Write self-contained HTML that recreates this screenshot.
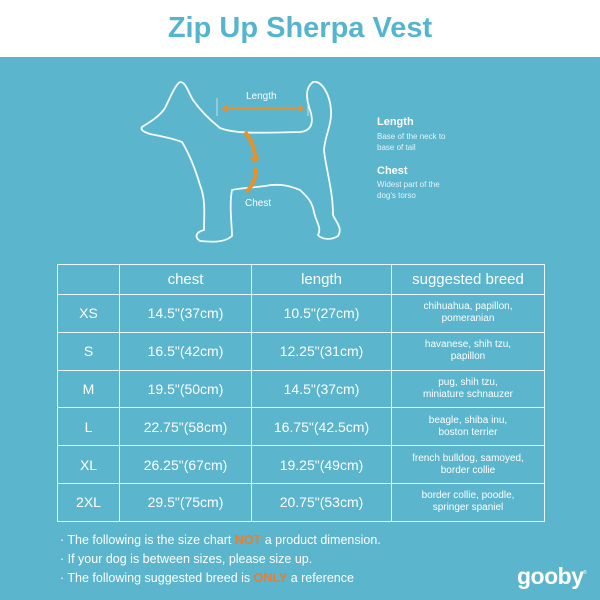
<!DOCTYPE html>
<html><head><meta charset="utf-8"><style>
*{margin:0;padding:0;box-sizing:border-box}
body{width:600px;height:600px;background:#5ab5cd;position:relative;overflow:hidden;font-family:"Liberation Sans","DejaVu Sans",sans-serif;color:#fff}
.hdr{position:absolute;left:0;top:0;width:600px;height:57px;background:#fff}
.title{position:absolute;left:0;top:12px;width:600px;text-align:center;font-size:29px;font-weight:bold;color:#55b5cf}
.t{position:absolute;white-space:nowrap}
table{position:absolute;left:57px;top:264px;width:488px;border-collapse:collapse}
td{border:1.5px solid #e9f5f8;text-align:center;vertical-align:middle;font-size:14px;height:37.8px}
tr.h td{height:30px;font-size:15px}
td.b{font-size:10px;line-height:12px}
.o{color:#f07b2c;font-weight:bold}
.n{font-size:12.5px;line-height:19px}
</style></head><body>
<div class="hdr"></div>
<div class="title">Zip Up Sherpa Vest</div>
<svg style="position:absolute;left:0;top:0" width="600" height="260">
<path d="M142,127 C150,122 160,116 165,108 C170,98 175,85 180,82 C186,82 188,92 193,100 C200,110 210,120 220,128 C235,134 260,133 300,132 C312,131 314,122 310,110 C306,98 305,88 313,82 C322,80 330,95 331,110 C332,125 325,135 324,150 C326,170 333,190 333,215 C336,222 343,228 338,236 C332,240 322,240 318,235 C322,228 316,222 314,212 C312,200 305,195 300,190 C290,186 280,183 265,186 C250,188 240,188 232,190 C229,205 232,225 232,236 C224,243 212,242 200,241 C194,237 196,232 204,230 C204,215 206,200 200,185 C195,168 188,152 182,142 C172,138 160,136 150,134 C144,132 140,130 142,127 Z" fill="none" stroke="#f4fbfd" stroke-width="1.8"/>
<line x1="217" y1="98" x2="217" y2="116" stroke="#dceff4" stroke-width="0.8"/>
<line x1="308" y1="98" x2="308" y2="116" stroke="#dceff4" stroke-width="0.8"/>
<line x1="224" y1="108.5" x2="302" y2="108.5" stroke="#e8902a" stroke-width="3"/>
<path d="M221,108.5 L227,105 L227,112 Z M305,108.5 L299,105 L299,112 Z" fill="#e8902a"/>
<path d="M245,132 C252,140 255,150 255,158" fill="none" stroke="#e8902a" stroke-width="4"/>
<path d="M250,158 L260,158 L255,163 Z" fill="#e8902a"/>
<path d="M256,168 C256,178 253,186 246,192" fill="none" stroke="#e8902a" stroke-width="4"/>
</svg>
<div class="t" style="left:246px;top:91px;font-size:10px">Length</div>
<div class="t" style="left:245px;top:198px;font-size:10px">Chest</div>
<div class="t" style="left:377px;top:116px;font-size:11px;font-weight:bold">Length</div>
<div class="t" style="left:377px;top:131px;font-size:8px;line-height:11px;color:#e6f4f8">Base of the neck to<br>base of tail</div>
<div class="t" style="left:377px;top:165px;font-size:11px;font-weight:bold">Chest</div>
<div class="t" style="left:377px;top:179px;font-size:8px;line-height:11px;color:#e6f4f8">Widest part of the<br>dog's torso</div>
<table>
<tr class="h"><td style="width:62px"></td><td style="width:132px">chest</td><td style="width:140px">length</td><td>suggested breed</td></tr>
<tr><td>XS</td><td>14.5"(37cm)</td><td>10.5"(27cm)</td><td class="b">chihuahua, papillon,<br>pomeranian</td></tr>
<tr><td>S</td><td>16.5"(42cm)</td><td>12.25"(31cm)</td><td class="b">havanese, shih tzu,<br>papillon</td></tr>
<tr><td>M</td><td>19.5"(50cm)</td><td>14.5"(37cm)</td><td class="b">pug, shih tzu,<br>miniature schnauzer</td></tr>
<tr><td>L</td><td>22.75"(58cm)</td><td>16.75"(42.5cm)</td><td class="b">beagle, shiba inu,<br>boston terrier</td></tr>
<tr><td>XL</td><td>26.25"(67cm)</td><td>19.25"(49cm)</td><td class="b">french bulldog, samoyed,<br>border collie</td></tr>
<tr><td>2XL</td><td>29.5"(75cm)</td><td>20.75"(53cm)</td><td class="b">border collie, poodle,<br>springer spaniel</td></tr>
</table>
<div class="t n" style="left:60px;top:531px">· The following is the size chart <span class="o">NOT</span> a product dimension.</div>
<div class="t n" style="left:60px;top:550px">· If your dog is between sizes, please size up.</div>
<div class="t n" style="left:60px;top:569px">· The following suggested breed is <span class="o">ONLY</span> a reference</div>
<div class="t" style="left:517px;top:563px;font-size:23px;font-weight:bold;letter-spacing:-0.5px">gooby</div>
<div class="t" style="left:583px;top:570px;font-size:5px">®</div>
</body></html>
